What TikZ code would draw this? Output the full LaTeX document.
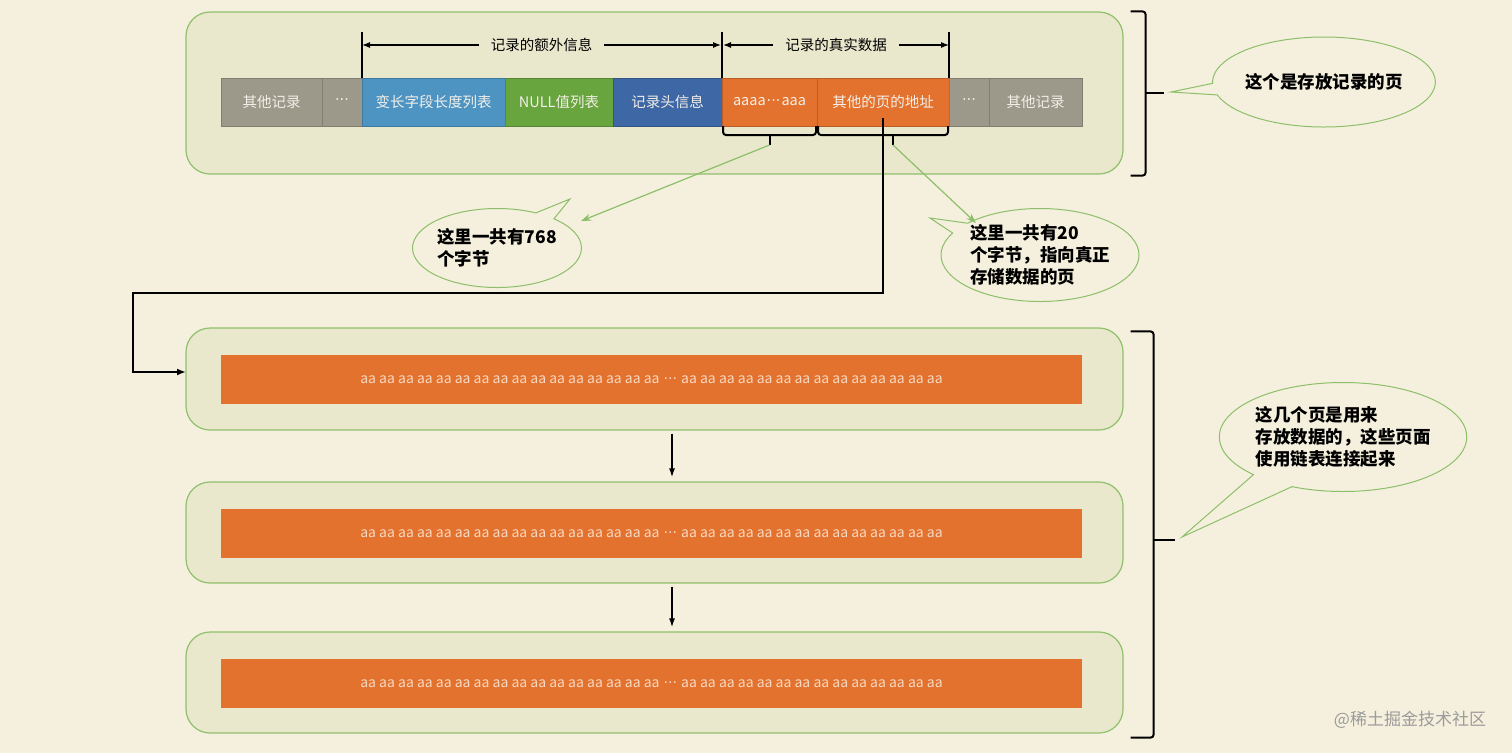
\documentclass[tikz,border=0pt]{standalone}
\usepackage{fontspec}
\setmainfont{Noto Sans CJK SC}
\newfontfamily\dotfont{DejaVu Sans}
\usetikzlibrary{positioning,calc,shapes.callouts,arrows.meta}
\definecolor{bgcream}{HTML}{F5F0DD}
\definecolor{pagefill}{HTML}{E9E7CC}
\definecolor{pageline}{HTML}{8FC06B}
\definecolor{cellgray}{HTML}{9C998B}
\definecolor{cellsky}{HTML}{4E94C3}
\definecolor{cellgreen}{HTML}{69A53F}
\definecolor{cellnavy}{HTML}{3E67A5}
\definecolor{cellorange}{HTML}{E4722F}
\definecolor{celltext}{HTML}{F3EFE8}
\definecolor{datatext}{HTML}{F6D7BF}
\definecolor{noteline}{HTML}{8DBE6A}
\definecolor{markgray}{HTML}{9B9B9B}
\newcommand{\middots}{{\dotfont\kern1pt···\kern1pt}}
\newcommand{\pagedata}{aa aa aa aa aa aa aa aa aa aa aa aa aa aa aa aa \middots{} aa aa aa aa aa aa aa aa aa aa aa aa aa aa}
\tikzset{
	pagebox/.style={draw=pageline,fill=pagefill,line width=1.2pt,rounded corners=24pt,minimum width=937pt,inner sep=0pt},
	cell/.style={fill=#1,draw=#1!82!black,line width=0.7pt,minimum height=48pt,inner sep=0pt,outer sep=0pt,text=celltext,font=\fontsize{14.5}{16}\selectfont},
	databar/.style={fill=cellorange,minimum width=861pt,minimum height=49pt,inner sep=0pt,text=datatext,font=\fontsize{14}{16}\selectfont},
	note/.style={ellipse callout,draw=noteline,fill=bgcream,line width=1pt,inner sep=0pt,align=left,font=\fontsize{17.5}{22}\selectfont\bfseries},
	bracket/.style={line width=2pt,rounded corners=3pt},
	dimline/.style={line width=1.1pt,{Latex[length=8pt,width=6pt]}-{Latex[length=8pt,width=6pt]}},
	hint/.style={draw=noteline,line width=1.2pt,-{Stealth[length=10pt,width=7pt]}},
	link/.style={line width=2.2pt,-{Latex[length=9pt,width=7pt]}},
	flow/.style={line width=1.5pt,-{Latex[length=9pt,width=6pt]}}
}
\begin{document}
\begin{tikzpicture}[x=1pt,y=-1pt]
	\fill[bgcream] (0,0) rectangle (1512,753);
	\useasboundingbox (0,0) rectangle (1512,753);
	\node[pagebox,minimum height=162pt] (page0) at (654.5,93) {};
	\node[pagebox,minimum height=102pt] (page1) at (654.5,379) {};
	\node[pagebox,minimum height=101pt] (page2) at (654.5,532.5) {};
	\node[pagebox,minimum height=101pt] (page3) at (654.5,682.5) {};
	\node[cell=cellgray,minimum width=101pt] (other1) at (271.5,102) {其他记录};
	\node[cell=cellgray,minimum width=40pt,right=0pt of other1] (gap1) {\middots};
	\node[cell=cellsky,minimum width=143pt,right=0pt of gap1] (varlen) {变长字段长度列表};
	\node[cell=cellgreen,minimum width=108pt,right=0pt of varlen] (nulls) {NULL值列表};
	\node[cell=cellnavy,minimum width=109pt,right=0pt of nulls] (header) {记录头信息};
	\node[cell=cellorange,minimum width=95pt,right=0pt of header] (data) {aaaa\middots aaa};
	\node[cell=cellorange,minimum width=132pt,right=0pt of data] (addr) {其他的页的地址};
	\node[cell=cellgray,minimum width=40pt,right=0pt of addr] (gap2) {\middots};
	\node[cell=cellgray,minimum width=93pt,right=0pt of gap2] (other2) {其他记录};
	\draw[line width=1.1pt] (varlen.north west) -- ++(0,-46);
	\draw[line width=1.1pt] (header.north east) -- ++(0,-46);
	\draw[line width=1.1pt] (addr.north east) -- ++(0,-46);
	\draw[dimline] ($(varlen.north west)+(0,-33)$) -- node[fill=pagefill,inner xsep=12pt,font=\fontsize{14.5}{16}\selectfont] {记录的额外信息} ($(header.north east)+(-1,-33)$);
	\draw[dimline] ($(data.north west)+(1,-33)$) -- node[fill=pagefill,inner xsep=12pt,font=\fontsize{14.5}{16}\selectfont] {记录的真实数据} ($(addr.north east)+(0,-33)$);
	\coordinate (tipa) at ([yshift=-19pt]data.south);
	\coordinate (tipb) at ([xshift=10pt,yshift=-19pt]addr.south);
	\draw[bracket] ([xshift=1pt]data.south west) -- ++(0,9) -| ([xshift=-1pt]data.south east);
	\draw[bracket] ([xshift=1pt]addr.south west) -- ++(0,9) -| ([xshift=-1pt]addr.south east);
	\draw[line width=2pt] ([yshift=-9pt]data.south) -- (tipa);
	\draw[line width=2pt] (tipb |- tipa) ++(0,-10) -- (tipb);
	\node[databar] (bar1) at (651.5,379.5) {\pagedata};
	\node[databar] (bar2) at (651.5,533.5) {\pagedata};
	\node[databar] (bar3) at (651.5,683.5) {\pagedata};
	\draw[bracket] ([xshift=7pt]page0.north east) -- ++(15,0) |- ([xshift=7pt,yshift=-1pt]page0.south east);
	\draw[line width=2pt] ([xshift=22pt]page0.east) -- ++(18,0) coordinate (tipc);
	\draw[bracket] ([xshift=7pt,yshift=-4pt]page1.north east) -- ++(23,0) |- ([xshift=7pt,yshift=-4pt]page3.south east);
	\draw[line width=2pt] (1153,540) -- ++(22,0) coordinate (tipd);
	\node[note,minimum width=179pt,minimum height=90pt,callout absolute pointer={(1171,92)}] (note0) at (1324,82) {这个是存放记录的页};
	\node[note,minimum width=160pt,minimum height=79pt,callout absolute pointer={(570,199)}] (note1) at (497,248) {这里一共有768\\个字节};
	\node[note,minimum width=180pt,minimum height=93pt,callout absolute pointer={(930,218)}] (note2) at (1040,255) {这里一共有20\\个字节，指向真正\\存储数据的页};
	\node[note,minimum width=217pt,minimum height=109pt,callout absolute pointer={(1182,537)},callout pointer arc=22] (note3) at (1343,437) {这几个页是用来\\存放数据的，这些页面\\使用链表连接起来};
	\coordinate (hinta) at (581,221);
	\coordinate (hintb) at (976,223);
	\draw[hint] (tipa) -- (hinta);
	\draw[hint] (tipb) -- (hintb);
	\coordinate (ptr) at ([yshift=-16pt]addr.center);
	\coordinate (turn) at (133,293);
	\coordinate (entry) at (186,372);
	\draw[link] (ptr) |- (turn) |- (entry);
	\draw[flow] ([xshift=17.5pt,yshift=-3pt]page1.south) -- ([xshift=17.5pt,yshift=4pt]page2.north);
	\draw[flow] ([xshift=17.5pt,yshift=-3pt]page2.south) -- ([xshift=17.5pt,yshift=4pt]page3.north);
	\node[text=markgray,font=\fontsize{17}{20}\selectfont] (mark) at (1410,720) {@稀土掘金技术社区};
\end{tikzpicture}
\end{document}
